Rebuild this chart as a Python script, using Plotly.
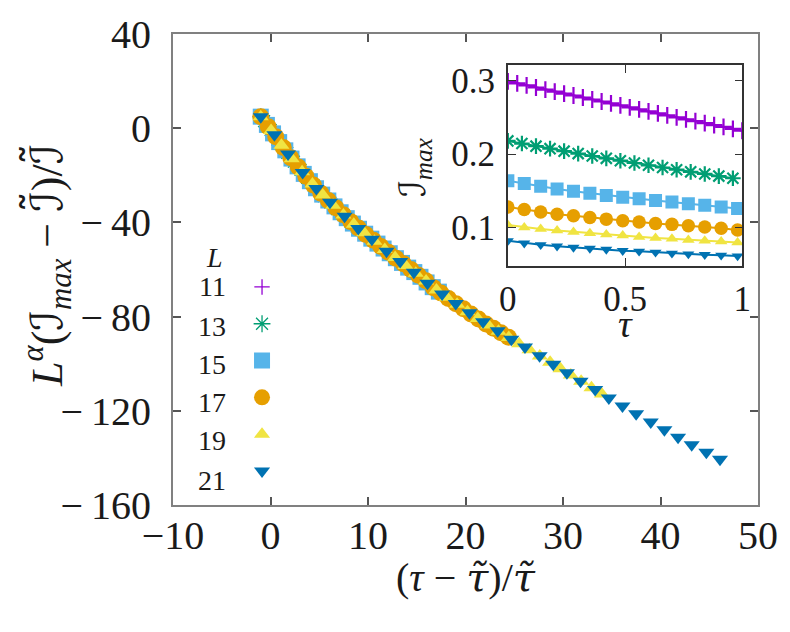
import plotly.graph_objects as go

# System sizes and gnuplot-like colours / symbols
sizes = [11, 13, 15, 17, 19, 21]
colors = ['#9400d3', '#009e73', '#56b4e9', '#e69f00', '#f0e442', '#0072b2']
symbols = ['cross-thin-open', 'asterisk-open', 'square', 'circle', 'triangle-up', 'triangle-down']

# Main panel: scaled data (tau - tau~)/tau~  vs  L^alpha (I_max - I~)/I~
x_11 = [-1.0, -0.75, -0.5, -0.25, 0.0, 0.25, 0.5, 0.75, 1.0, 1.25, 1.5, 1.75, 2.0, 2.25, 2.5,
        2.75, 3.0, 3.25, 3.5, 3.75]
y_11 = [4.9, 3.5, 2.1, 0.7, -0.7, -2.1, -3.6, -5.0, -6.5, -7.9, -9.3, -10.7, -12.1, -13.4, -14.7,
        -16.0, -17.3, -18.6, -19.8, -21.1]

x_13 = [-1.0, -0.66, -0.32, 0.02, 0.36, 0.70, 1.04, 1.38, 1.72, 2.06, 2.40, 2.74, 3.08, 3.42, 3.76,
        4.10, 4.44, 4.78, 5.12, 5.46, 5.80, 6.14, 6.48, 6.82, 7.16, 7.50, 7.84, 8.18, 8.52, 8.86]
y_13 = [4.9, 3.0, 1.1, -0.8, -2.8, -4.8, -6.7, -8.6, -10.5, -12.4, -14.2, -16.0, -17.7, -19.4, -21.1,
        -22.8, -24.4, -26.0, -27.5, -28.9, -30.2, -31.6, -32.9, -34.3, -35.6, -37.0, -38.3, -39.6,
        -40.8, -41.9]

x_15 = [-1.0, -0.37, 0.26, 0.89, 1.52, 2.15, 2.78, 3.41, 4.04, 4.67, 5.30, 5.93, 6.56, 7.19, 7.82,
        8.45, 9.08, 9.71, 10.34, 10.97, 11.60, 12.23, 12.86, 13.49, 14.12, 14.75, 15.38, 16.01,
        16.64, 17.27]
y_15 = [4.9, 1.4, -2.2, -5.9, -9.4, -12.9, -16.2, -19.4, -22.5, -25.5, -28.2, -30.7, -33.2, -35.7,
        -38.2, -40.5, -42.7, -44.8, -46.9, -49.0, -51.1, -53.1, -55.2, -57.2, -59.2, -61.1, -63.1,
        -65.5, -67.5, -69.4]

x_17 = [-1.0, -0.23, 0.54, 1.31, 2.08, 2.85, 3.62, 4.39, 5.16, 5.93, 6.70, 7.47, 8.24, 9.01, 9.78,
        10.55, 11.32, 12.09, 12.86, 13.63, 14.40, 15.17, 15.94, 16.71, 17.48, 18.25, 19.02, 19.79,
        20.56, 21.33, 22.10, 22.87, 23.64, 24.41]
y_17 = [4.9, 0.6, -3.6, -8.2, -12.5, -16.5, -20.4, -24.1, -27.6, -30.7, -33.8, -36.8, -39.7, -42.4,
        -45.1, -47.6, -50.2, -52.7, -55.2, -57.6, -60.0, -62.4, -64.8, -67.7, -70.0, -72.3, -74.5,
        -76.7, -78.9, -81.0, -83.1, -84.9, -86.9, -88.8]

x_19 = [-1.0, 0.06, 1.12, 2.18, 3.24, 4.30, 5.36, 6.42, 7.48, 8.54, 9.60, 10.66, 11.72, 12.78, 13.84,
        14.90, 15.96, 17.02, 18.08, 19.14, 20.20, 21.26, 22.32, 23.38, 24.44, 25.50, 26.56, 27.62,
        28.68, 29.74, 30.80, 31.86, 32.92, 33.98]
y_19 = [4.9, -1.0, -7.2, -13.0, -18.5, -23.7, -28.4, -32.7, -36.9, -40.8, -44.4, -48.0, -51.5, -54.9,
        -58.3, -61.6, -64.9, -68.7, -71.8, -74.8, -77.9, -80.8, -83.6, -86.2, -88.9, -91.5, -94.1,
        -96.7, -99.4, -102.1, -104.8, -107.5, -110.2, -112.9]

x_21 = [-1.0, 0.4, 1.8, 3.3, 4.7, 6.1, 7.6, 9.0, 10.4, 11.9, 13.3, 14.7, 16.1, 17.6, 19.0, 20.4, 21.8,
        23.3, 24.7, 26.1, 27.6, 29.0, 30.4, 31.8, 33.3, 34.7, 36.1, 37.5, 39.0, 40.4, 41.8, 43.2,
        44.7, 46.1]
y_21 = [4.9, -2.8, -11.0, -18.8, -25.6, -31.4, -37.4, -42.6, -47.2, -52.2, -56.6, -61.2, -65.8, -70.4,
        -74.4, -78.4, -82.2, -86.0, -89.6, -92.9, -96.6, -100.2, -103.8, -107.4, -111.0, -114.6,
        -118.0, -121.2, -124.8, -128.0, -131.2, -134.4, -137.6, -140.6]

# Inset: raw I_max vs tau
tau_11 = [0.0, 0.04, 0.08, 0.12, 0.16, 0.2, 0.24, 0.28, 0.32, 0.36, 0.4, 0.44, 0.48, 0.52, 0.56, 0.6,
          0.64, 0.68, 0.72, 0.76, 0.8, 0.84, 0.88, 0.92, 0.96, 1.0]
imax_11 = [0.2990, 0.2962, 0.2934, 0.2906, 0.2878, 0.2851, 0.2824, 0.2797, 0.2770, 0.2743, 0.2716,
           0.2689, 0.2662, 0.2635, 0.2608, 0.2581, 0.2554, 0.2527, 0.2500, 0.2474, 0.2448, 0.2422,
           0.2396, 0.2370, 0.2344, 0.2318]
tau_13 = [0.0, 0.06, 0.12, 0.18, 0.24, 0.3, 0.36, 0.42, 0.48, 0.54, 0.6, 0.66, 0.72, 0.78, 0.84, 0.9, 0.96]
imax_13 = [0.2180, 0.2144, 0.2109, 0.2075, 0.2041, 0.2008, 0.1975, 0.1943, 0.1911, 0.1880, 0.1849,
           0.1819, 0.1789, 0.1760, 0.1731, 0.1702, 0.1673]
tau_big = [0.0, 0.07, 0.14, 0.21, 0.28, 0.35, 0.42, 0.49, 0.56, 0.63, 0.7, 0.77, 0.84, 0.91, 0.98]
imax_15 = [0.1640, 0.1600, 0.1564, 0.1528, 0.1497, 0.1470, 0.1439, 0.1416, 0.1394, 0.1369, 0.1349,
           0.1327, 0.1305, 0.1283, 0.1260]
imax_17 = [0.1282, 0.1247, 0.1215, 0.1184, 0.1162, 0.1139, 0.1117, 0.1095, 0.1077, 0.1059, 0.1046,
           0.1028, 0.1010, 0.0992, 0.0970]
imax_19 = [0.1037, 0.1005, 0.0983, 0.0961, 0.0943, 0.0925, 0.0907, 0.0894, 0.0876, 0.0862, 0.0849,
           0.0835, 0.0822, 0.0813, 0.0800]
imax_21 = [0.0822, 0.0791, 0.0768, 0.0750, 0.0733, 0.0719, 0.0706, 0.0688, 0.0679, 0.0666, 0.0652,
           0.0643, 0.0634, 0.0625, 0.0616]

# tick labels
x_ticks = [-10, 0, 10, 20, 30, 40, 50]
x_tick_text = ['−10', '0', '10', '20', '30', '40', '50']
y_ticks = [-160, -120, -80, -40, 0, 40]
y_tick_text = ['−\u2009160', '−\u2009120', '−\u200980', '−\u200940', '0', '40']

main_x = [x_11, x_13, x_15, x_17, x_19, x_21]
main_y = [y_11, y_13, y_15, y_17, y_19, y_21]
inset_x = [tau_11, tau_13, tau_big, tau_big, tau_big, tau_big]
inset_y = [imax_11, imax_13, imax_15, imax_17, imax_19, imax_21]

main_size = [11, 14, 16, 17, 14, 14]
inset_size = [12, 13, 13, 13.5, 11, 10.5]

FONT = 'Liberation Serif'
tau_t = '<span style="font-family:DejaVu Serif"><i>τ̃</i></span>'
I_s = '<span style="font-family:DejaVu Sans">ℐ</span>'
I_t = '<span style="font-family:DejaVu Sans">ℐ̃</span>'

fig = go.Figure()

for i, L in enumerate(sizes):
    open_sym = symbols[i].endswith('open')
    fig.add_trace(go.Scatter(
        x=main_x[i], y=main_y[i], mode='markers', name=' ',
        marker=dict(symbol=symbols[i], size=main_size[i], color=colors[i],
                    line=dict(width=1.3 if open_sym else 0, color=colors[i])),
        xaxis='x', yaxis='y'))

for i, L in enumerate(sizes):
    open_sym = symbols[i].endswith('open')
    fig.add_trace(go.Scatter(
        x=inset_x[i], y=inset_y[i], mode='lines+markers', showlegend=False,
        line=dict(color=colors[i], width=2),
        marker=dict(symbol=symbols[i], size=inset_size[i], color=colors[i],
                    line=dict(width=2.2 if open_sym else 0, color=colors[i])),
        xaxis='x2', yaxis='y2'))

axis_common = dict(showline=True, mirror='ticks', ticks='inside', showgrid=False,
                   zeroline=False)

txt = dict(xref='paper', yref='paper', showarrow=False, yanchor='middle')
annotations = [
    # axis titles
    dict(text='(<i>τ</i> − ' + tau_t + ')/' + tau_t, x=0.5, y=-0.153, xanchor='center',
         font=dict(family=FONT, size=40, color='#1a1a1a'), **txt),
    dict(text='<i>L</i><sup><i>α</i></sup>(' + I_s + '<sub><i>max</i></sub> − ' + I_t + ')/' + I_t,
         x=-0.215, y=0.508, xanchor='center', textangle=-90,
         font=dict(family=FONT, size=44, color='#1a1a1a'), **txt),
    dict(text='<i>τ</i>', xref='x2 domain', x=0.5, yref='paper', y=0.385, xanchor='center',
         yanchor='middle', showarrow=False, font=dict(family=FONT, size=38, color='#1a1a1a')),
    dict(text=I_s + '<sub><i>max</i></sub>', x=0.4125, y=0.716, xanchor='center', textangle=-90,
         font=dict(family=FONT, size=36, color='#1a1a1a'), **txt),
    # legend header
    dict(text='<i>L</i>', x=0.0707, y=0.526, xanchor='center',
         font=dict(family=FONT, size=28, color='#1a1a1a'), **txt),
]
# legend labels, gnuplot style (numbers to the left of the symbols)
leg_rows = [0.4632, 0.3789, 0.2989, 0.2168, 0.1368, 0.0526]
for yy, L in zip(leg_rows, sizes):
    annotations.append(dict(text=str(L), x=0.0943, y=yy, xanchor='right',
                            font=dict(family=FONT, size=28, color='#1a1a1a'), **txt))

fig.update_layout(
    width=790, height=632,
    margin=dict(l=173, r=23, t=30, b=127),
    paper_bgcolor='white', plot_bgcolor='white',
    font=dict(family=FONT, color='#1a1a1a'),
    showlegend=True,
    legend=dict(x=0.118, y=0.5126, xanchor='left', yanchor='top', bgcolor='rgba(0,0,0,0)',
                font=dict(family=FONT, size=26), itemwidth=30, tracegroupgap=0),
    xaxis=dict(range=[-10, 50], tickvals=x_ticks, ticktext=x_tick_text, linecolor='#808080',
               linewidth=2, ticklen=8, tickcolor='#555', tickwidth=1.5, tickfont=dict(size=40),
               ticklabelstandoff=-6, **axis_common),
    yaxis=dict(range=[-160, 40], tickvals=y_ticks, ticktext=y_tick_text, linecolor='#808080',
               linewidth=2, ticklen=8, tickcolor='#555', tickwidth=1.5, tickfont=dict(size=40),
               ticklabelstandoff=12, **axis_common),
    xaxis2=dict(domain=[0.5724, 0.9731], anchor='y2', range=[0, 1], dtick=0.5,
                linecolor='#333', linewidth=1.5, ticklen=8, tickcolor='#333',
                tickfont=dict(size=35), ticklabelstandoff=1, **axis_common),
    yaxis2=dict(domain=[0.5074, 0.9347], anchor='x2', range=[0.048, 0.3215], dtick=0.1,
                linecolor='#333', linewidth=1.5, ticklen=8, tickcolor='#333',
                tickfont=dict(size=35), ticklabelstandoff=4, **axis_common),
    annotations=annotations,
)

fig.write_html('out.html', config={'displayModeBar': False},
               post_script="document.body.style.margin='0';")
